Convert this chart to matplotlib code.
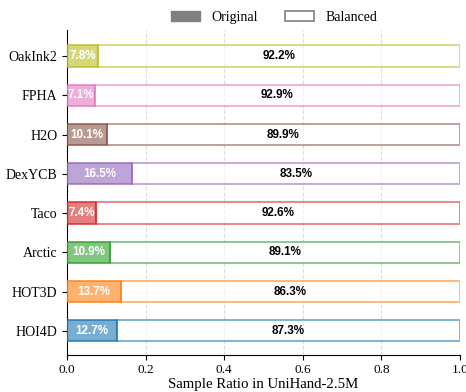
import matplotlib.pyplot as plt
import matplotlib.patches as mpatches
import numpy as np

# donnees
datasets = ['HOI4D', 'HOT3D', 'Arctic', 'Taco', 'DexYCB', 'H2O', 'FPHA', 'OakInk2']
original = [0.127, 0.137, 0.109, 0.074, 0.165, 0.101, 0.071, 0.078]
balanced = [0.873, 0.863, 0.891, 0.926, 0.835, 0.899, 0.929, 0.922]
couleurs = ['tab:blue', 'tab:orange', 'tab:green', 'tab:red',
            'tab:purple', 'tab:brown', 'tab:pink', 'tab:olive']

plt.rcParams['font.family'] = ['Liberation Serif', 'DejaVu Serif']

fig = plt.figure(figsize=(4.66, 3.92), dpi=100)
ax = fig.add_axes([0.144, 0.094, 0.843, 0.829])

y = np.arange(len(datasets))
h = 0.54

for i in range(len(datasets)):
    ax.barh(y[i], original[i], height=h, color=couleurs[i], alpha=0.6, zorder=3)
    ax.barh(y[i], original[i], height=h, facecolor='none', edgecolor=couleurs[i],
            linewidth=1.3, alpha=0.8, zorder=4)
    ax.barh(y[i], balanced[i], left=original[i], height=h, facecolor='white',
            edgecolor=couleurs[i], linewidth=1.3, alpha=0.6, zorder=3)
    ax.text(original[i] / 2, y[i], f'{original[i]*100:.1f}%', ha='center', va='center',
            color='white', fontsize=8.4, fontweight='bold', family='Liberation Sans', zorder=5)
    ax.text(original[i] + balanced[i] / 2, y[i], f'{balanced[i]*100:.1f}%', ha='center',
            va='center', color='black', fontsize=8.4, fontweight='bold',
            family='Liberation Sans', zorder=5)

ax.set_yticks(y)
ax.set_yticklabels(datasets, fontsize=10)
ax.set_xlim(0, 1.0)
ax.set_ylim(-0.62, 7.66)
ax.set_xticks([0.0, 0.2, 0.4, 0.6, 0.8, 1.0])
ax.tick_params(axis='x', labelsize=9.5, pad=3)
ax.set_xlabel('Sample Ratio in UniHand-2.5M', fontsize=10.7, labelpad=1)
ax.grid(axis='x', linestyle='--', color='#dddddd', linewidth=0.8, zorder=0)
ax.spines['top'].set_visible(False)
ax.spines['right'].set_visible(False)

p1 = mpatches.Patch(facecolor='gray', edgecolor='gray', label='Original')
p2 = mpatches.Patch(facecolor='white', edgecolor='gray', linewidth=1.2, label='Balanced')
fig.legend(handles=[p1, p2], loc='upper center', bbox_to_anchor=(0.588, 1.005), ncol=2,
           frameon=False, fontsize=10, handlelength=2.1, columnspacing=2.0)

plt.savefig('out.png', dpi=100)
